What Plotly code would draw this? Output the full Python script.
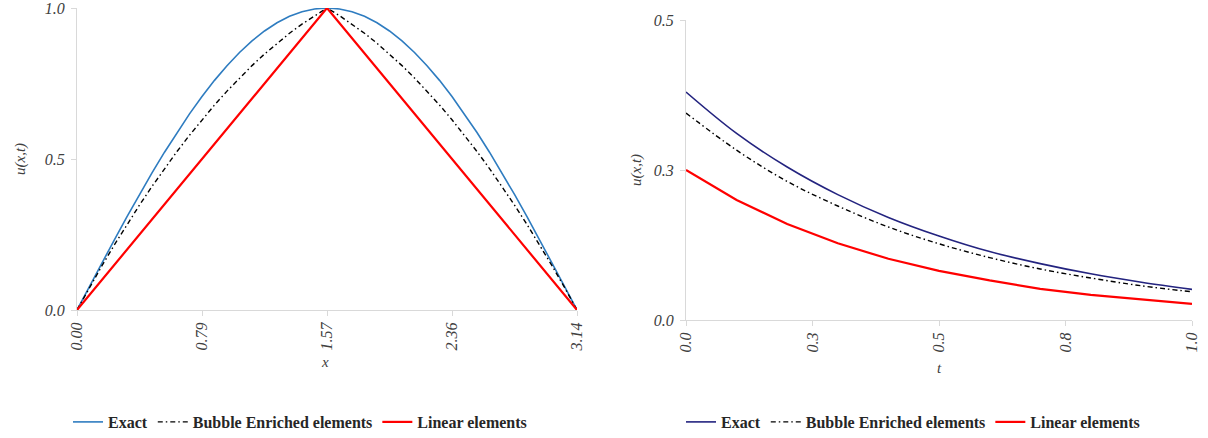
import plotly.graph_objects as go

# ---- Left panel data: u(x,t) along x ----
x_left = [0.0, 0.0785, 0.1571, 0.2356, 0.3142, 0.3927, 0.4712, 0.5498, 0.6283, 0.7069,
          0.7854, 0.8639, 0.9425, 1.0210, 1.0996, 1.1781, 1.2566, 1.3352, 1.4137, 1.4923,
          1.5708, 1.6493, 1.7279, 1.8064, 1.8850, 1.9635, 2.0420, 2.1206, 2.1991, 2.2777,
          2.3562, 2.4347, 2.5133, 2.5918, 2.6704, 2.7489, 2.8274, 2.9060, 2.9845, 3.0631, 3.1416]
exact_left = [0.0, 0.0785, 0.1564, 0.2334, 0.3090, 0.3827, 0.4540, 0.5225, 0.5878, 0.6494,
              0.7071, 0.7604, 0.8090, 0.8526, 0.8910, 0.9239, 0.9511, 0.9724, 0.9877, 0.9969,
              1.0, 0.9969, 0.9877, 0.9724, 0.9511, 0.9239, 0.8910, 0.8526, 0.8090, 0.7604,
              0.7071, 0.6494, 0.5878, 0.5225, 0.4540, 0.3827, 0.3090, 0.2334, 0.1564, 0.0785, 0.0]
bubble_left = [0.0, 0.0747, 0.1468, 0.2163, 0.2832, 0.3475, 0.4092, 0.4683, 0.5248, 0.5787,
               0.6300, 0.6787, 0.7248, 0.7683, 0.8092, 0.8475, 0.8832, 0.9163, 0.9468, 0.9747,
               1.0, 0.9747, 0.9468, 0.9163, 0.8832, 0.8475, 0.8092, 0.7683, 0.7248, 0.6787,
               0.6300, 0.5787, 0.5248, 0.4683, 0.4092, 0.3475, 0.2832, 0.2163, 0.1468, 0.0747, 0.0]
x_linear_left = [0.0, 1.5708, 3.1416]
linear_left = [0.0, 1.0, 0.0]
xtick_vals_left = [0.0, 0.7854, 1.5708, 2.3562, 3.1416]
xtick_text_left = ["0.00", "0.79", "1.57", "2.36", "3.14"]
ytick_vals_left = [0.0, 0.5, 1.0]
ytick_text_left = ["0.0", "0.5", "1.0"]

# ---- Right panel data: u(x,t) along t ----
t_right = [0.0, 0.1, 0.2, 0.3, 0.4, 0.5, 0.6, 0.7, 0.8, 0.9, 1.0]
exact_right = [0.380, 0.311, 0.255, 0.209, 0.171, 0.140, 0.114, 0.094, 0.077, 0.063, 0.051]
bubble_right = [0.345, 0.283, 0.231, 0.190, 0.155, 0.127, 0.104, 0.085, 0.070, 0.057, 0.047]
linear_right = [0.250, 0.200, 0.160, 0.128, 0.102, 0.082, 0.066, 0.052, 0.042, 0.034, 0.027]
xtick_vals_right = [0.0, 0.25, 0.5, 0.75, 1.0]
xtick_text_right = ["0.0", "0.3", "0.5", "0.8", "1.0"]
ytick_vals_right = [0.0, 0.25, 0.5]
ytick_text_right = ["0.0", "0.3", "0.5"]

W, H = 1208, 438
SERIF = "Liberation Serif, DejaVu Serif, serif"
DASHDOT = "5px,3px,1.5px,3px"

fig = go.Figure()

# Left traces
fig.add_trace(go.Scatter(x=x_left, y=exact_left, mode="lines", name="Exact",
                         line=dict(color="#2e7cc0", width=1.6), xaxis="x", yaxis="y", legend="legend"))
fig.add_trace(go.Scatter(x=x_left, y=bubble_left, mode="lines", name="Bubble Enriched elements",
                         line=dict(color="black", width=1.4, dash=DASHDOT), xaxis="x", yaxis="y", legend="legend"))
fig.add_trace(go.Scatter(x=x_linear_left, y=linear_left, mode="lines", name="Linear elements",
                         line=dict(color="#ff0000", width=2.2), xaxis="x", yaxis="y", legend="legend"))

# Right traces
fig.add_trace(go.Scatter(x=t_right, y=exact_right, mode="lines", name="Exact",
                         line=dict(color="#23237f", width=1.6, shape="spline"),
                         xaxis="x2", yaxis="y2", legend="legend2"))
fig.add_trace(go.Scatter(x=t_right, y=bubble_right, mode="lines", name="Bubble Enriched elements",
                         line=dict(color="black", width=1.4, dash=DASHDOT, shape="spline"),
                         xaxis="x2", yaxis="y2", legend="legend2"))
fig.add_trace(go.Scatter(x=t_right, y=linear_right, mode="lines", name="Linear elements",
                         line=dict(color="#ff0000", width=2.2), xaxis="x2", yaxis="y2", legend="legend2"))

def px_x(p):
    return p / W

def px_y(p):
    return (H - p) / H

tickfont = dict(family=SERIF, size=16, color="#404040", style="italic")
axis_common = dict(showgrid=False, zeroline=False, showline=True, linecolor="#d9d9d9", linewidth=1,
                   ticks="outside", tickcolor="#d9d9d9", ticklen=5, tickfont=tickfont, fixedrange=True,
                   automargin=False, ticklabeloverflow="allow")

legend_font = dict(family=SERIF, size=16, color="#262626", weight="bold")

fig.update_layout(
    width=W, height=H,
    margin=dict(l=0, r=0, t=0, b=0, autoexpand=False),
    paper_bgcolor="white", plot_bgcolor="white",
    xaxis=dict(domain=[px_x(77), px_x(577)], range=[0, 3.1416], tickvals=xtick_vals_left,
               ticktext=xtick_text_left, tickangle=-90, anchor="y", **axis_common),
    yaxis=dict(domain=[px_y(310), px_y(8)], range=[0, 1.0], tickvals=ytick_vals_left,
               ticktext=ytick_text_left, anchor="x", ticklabelstandoff=3, **axis_common),
    xaxis2=dict(domain=[px_x(686), px_x(1192)], range=[0, 1.0], tickvals=xtick_vals_right,
                ticktext=xtick_text_right, tickangle=-90, anchor="y2", **axis_common),
    yaxis2=dict(domain=[px_y(320), px_y(20)], range=[0, 0.5], tickvals=ytick_vals_right,
                ticktext=ytick_text_right, anchor="x2", ticklabelstandoff=3, **axis_common),
    legend=dict(orientation="h", x=px_x(300), y=px_y(422), xanchor="center", yanchor="middle",
                font=legend_font, itemwidth=30, bgcolor="rgba(0,0,0,0)", tracegroupgap=0),
    legend2=dict(orientation="h", x=px_x(913), y=px_y(422), xanchor="center", yanchor="middle",
                 font=legend_font, itemwidth=30, bgcolor="rgba(0,0,0,0)", tracegroupgap=0),
    showlegend=True,
)

title_font = dict(family=SERIF, size=15, color="#404040", style="italic")
ann_common = dict(xref="paper", yref="paper", showarrow=False, font=title_font,
                  xanchor="center", yanchor="middle")
annotations = [
    dict(text="x", x=px_x(325), y=px_y(362), **ann_common),
    dict(text="t", x=px_x(939), y=px_y(368), **ann_common),
    dict(text="u(x,t)", x=px_x(20), y=px_y(159), textangle=-90, **ann_common),
    dict(text="u(x,t)", x=px_x(636), y=px_y(170), textangle=-90, **ann_common),
]
fig.update_layout(annotations=annotations)

fig.write_html("out.html", config={"displayModeBar": False},
               post_script="document.body.style.margin='0px';document.body.style.overflow='hidden';")
